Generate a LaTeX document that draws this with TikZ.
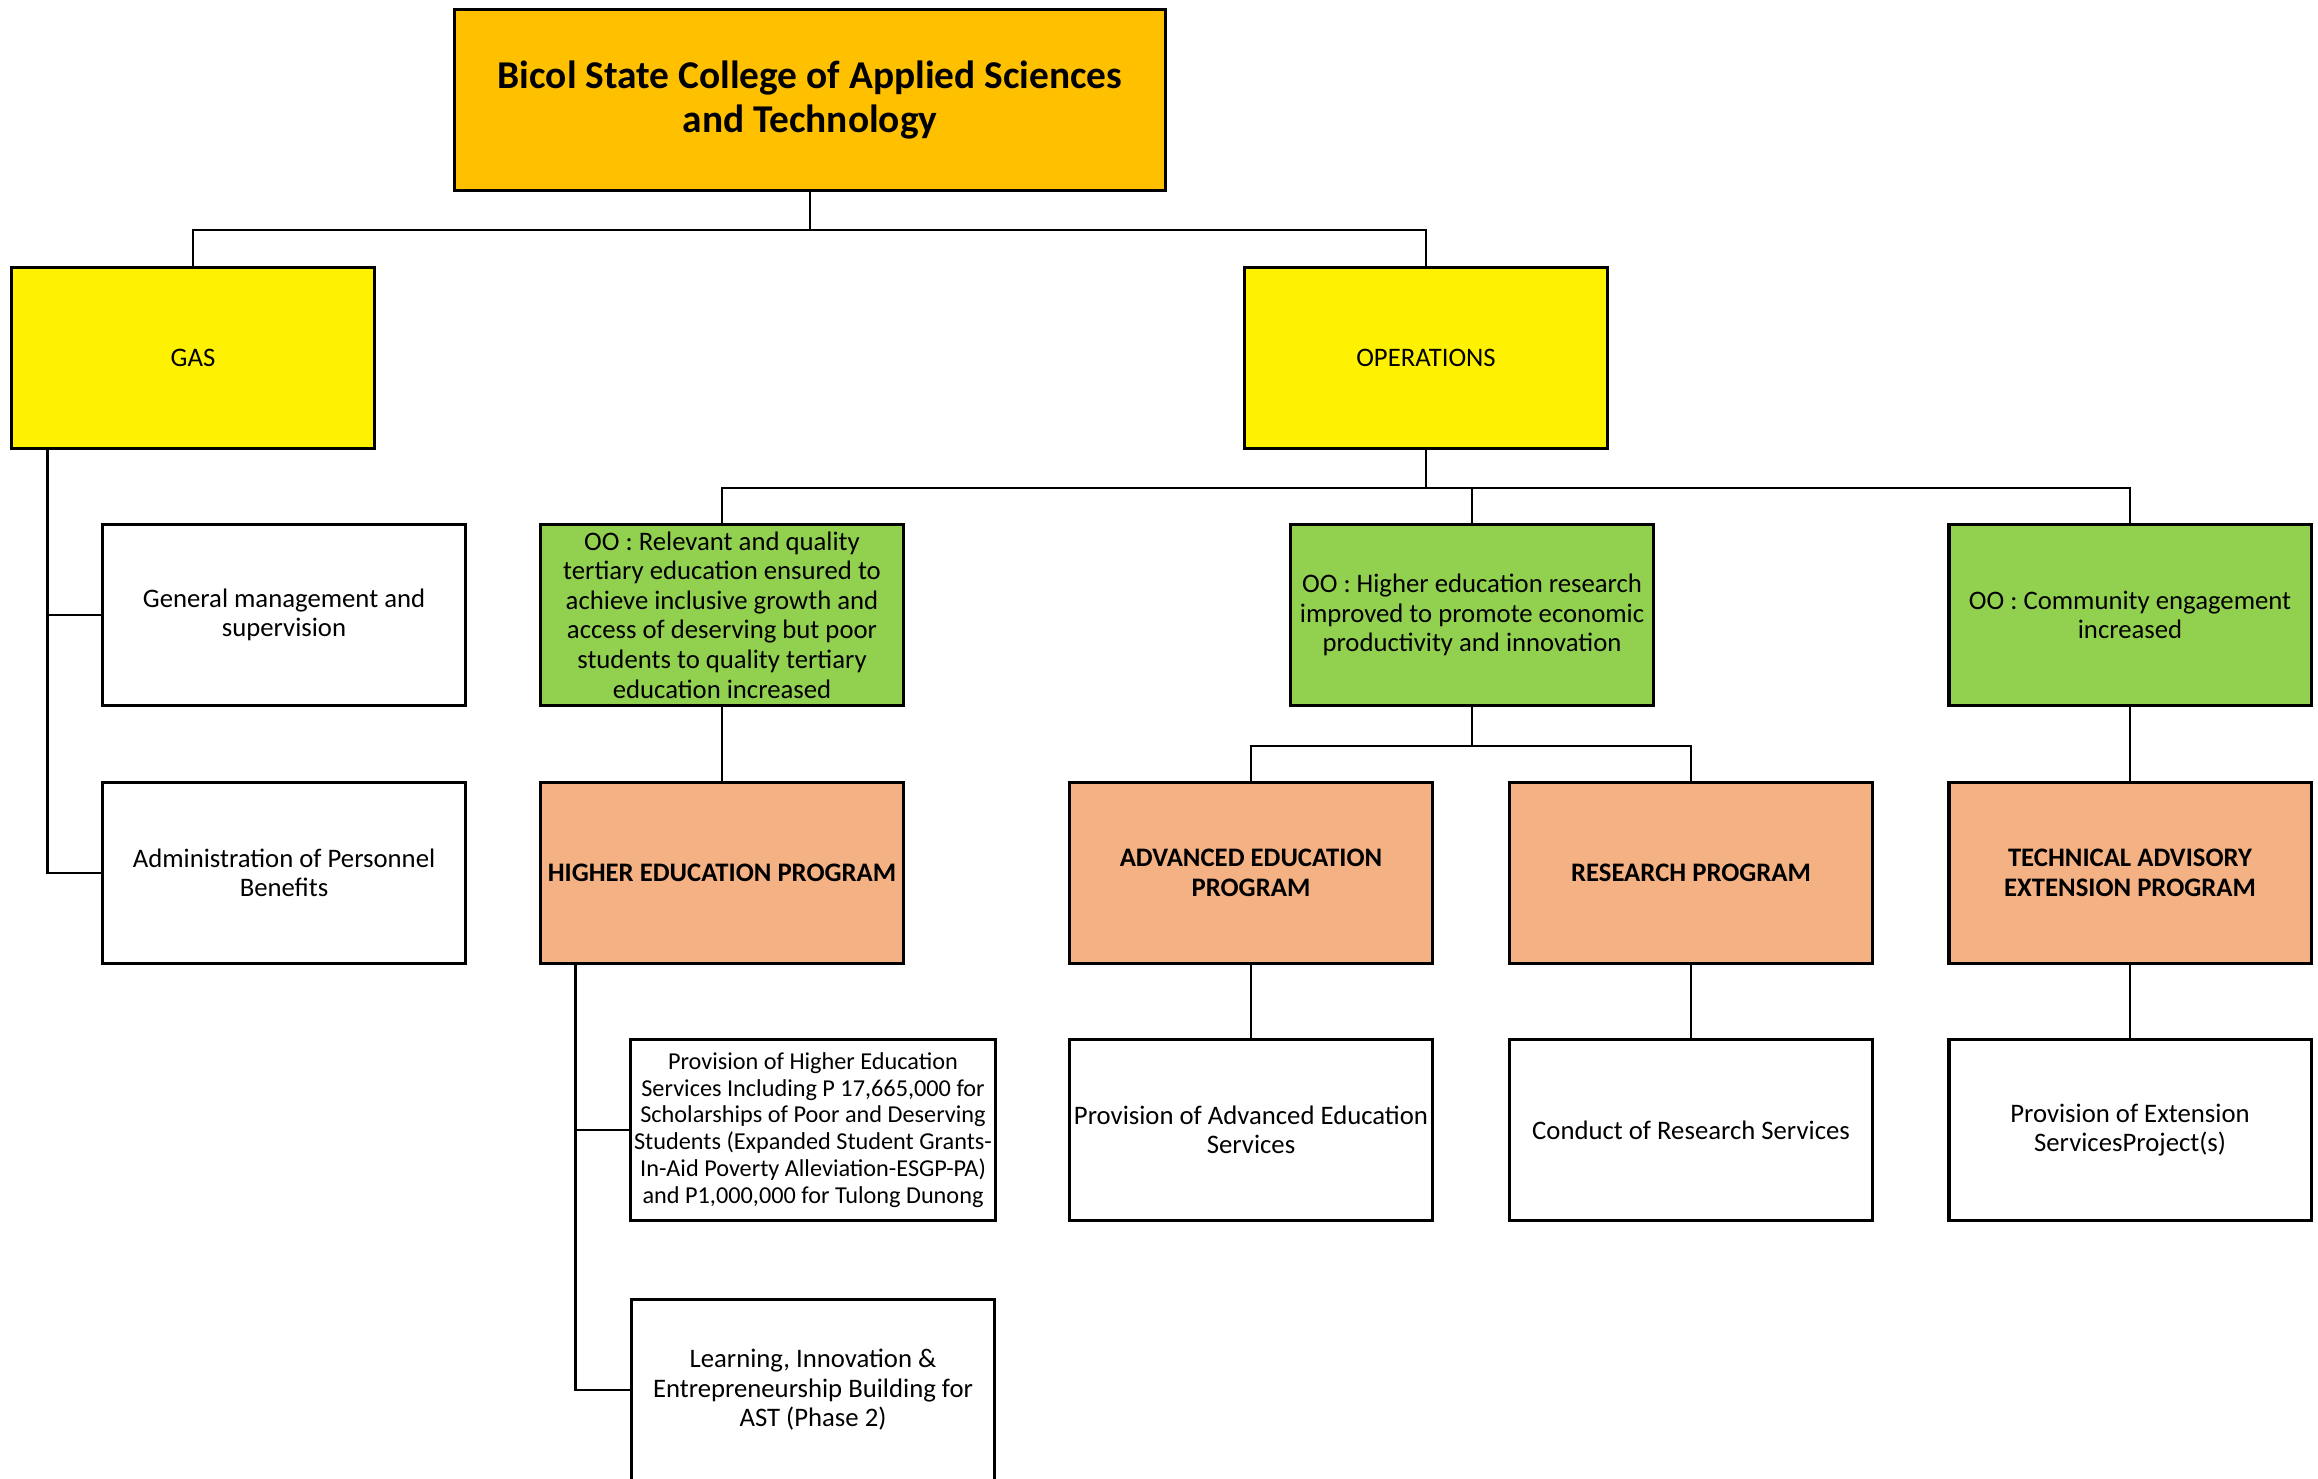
\documentclass[tikz,border=0pt]{standalone}
\usepackage{fontspec}
\setmainfont{Carlito}
\definecolor{gold}{HTML}{FFC000}
\definecolor{leaf}{HTML}{92D050}
\definecolor{peach}{HTML}{F4B183}
\begin{document}
\begin{tikzpicture}[x=0.01cm,y=-0.01cm,line width=0.7pt]
  \tikzstyle{box}=[draw,line width=0.9pt,minimum width=3.62cm,minimum height=1.81cm,inner sep=1pt,align=center,font=\fontsize{7.6}{8.4}\selectfont]
  \tikzstyle{head}=[box,fill=gold,minimum width=7.1cm,font=\fontsize{11.2}{12.3}\selectfont\bfseries]
  \tikzstyle{unit}=[box,fill=yellow]
  \tikzstyle{goal}=[box,fill=leaf]
  \tikzstyle{prog}=[box,fill=peach,font=\fontsize{7.6}{8.4}\selectfont\bfseries]
  \useasboundingbox (0,0) rectangle (2318,1479);
  \node[head] (bscat) at (810,100) {Bicol State College of Applied Sciences\\and Technology};
  \node[unit] (gas) at (193,358) {GAS};
  \node[unit] (ops) at (1426,358) {OPERATIONS};
  \node[box] (gm) at (284,615) {General management and\\supervision};
  \node[box] (apb) at (284,873) {Administration of Personnel\\Benefits};
  \node[goal] (oo1) at (722,615) {OO : Relevant and quality\\tertiary education ensured to\\achieve inclusive growth and\\access of deserving but poor\\students to quality tertiary\\education increased};
  \node[goal] (oo2) at (1472,615) {OO : Higher education research\\improved to promote economic\\productivity and innovation};
  \node[goal] (oo3) at (2130,615) {OO : Community engagement\\increased};
  \node[prog] (hep) at (722,873) {HIGHER EDUCATION PROGRAM};
  \node[prog] (aep) at (1251,873) {ADVANCED EDUCATION\\PROGRAM};
  \node[prog] (rp) at (1691,873) {RESEARCH PROGRAM};
  \node[prog] (taep) at (2130,873) {TECHNICAL ADVISORY\\EXTENSION PROGRAM};
  \node[box,font=\fontsize{6.9}{7.6}\selectfont] (phe) at (813,1130) {Provision of Higher Education\\Services Including P 17,665,000 for\\Scholarships of Poor and Deserving\\Students (Expanded Student Grants-\\In-Aid Poverty Alleviation-ESGP-PA)\\and P1,000,000 for Tulong Dunong};
  \node[box] (lie) at (813,1390) {Learning, Innovation \&\\Entrepreneurship Building for\\AST (Phase 2)};
  \node[box] (pae) at (1251,1130) {Provision of Advanced Education\\Services};
  \node[box] (crs) at (1691,1130) {Conduct of Research Services};
  \node[box] (pes) at (2130,1130) {Provision of Extension\\ServicesProject(s)};
  \draw (bscat.south) -- ++(0,38) -| (gas.north);
  \draw (bscat.south) -- ++(0,38) -| (ops.north);
  \draw ([xshift=0.37cm]gas.south west) |- (gm.west);
  \draw ([xshift=0.37cm]gas.south west) |- (apb.west);
  \draw (ops.south) -- ++(0,38) -| (oo1.north);
  \draw (ops.south) -- ++(0,38) -| (oo2.north);
  \draw (ops.south) -- ++(0,38) -| (oo3.north);
  \draw (oo1) -- (hep);
  \draw (oo2.south) -- ++(0,39) -| (aep.north);
  \draw (oo2.south) -- ++(0,39) -| (rp.north);
  \draw (oo3) -- (taep);
  \draw ([xshift=0.36cm]hep.south west) |- (phe.west);
  \draw ([xshift=0.36cm]hep.south west) |- (lie.west);
  \draw (aep) -- (pae);
  \draw (rp) -- (crs);
  \draw (taep) -- (pes);
\end{tikzpicture}
\end{document}
